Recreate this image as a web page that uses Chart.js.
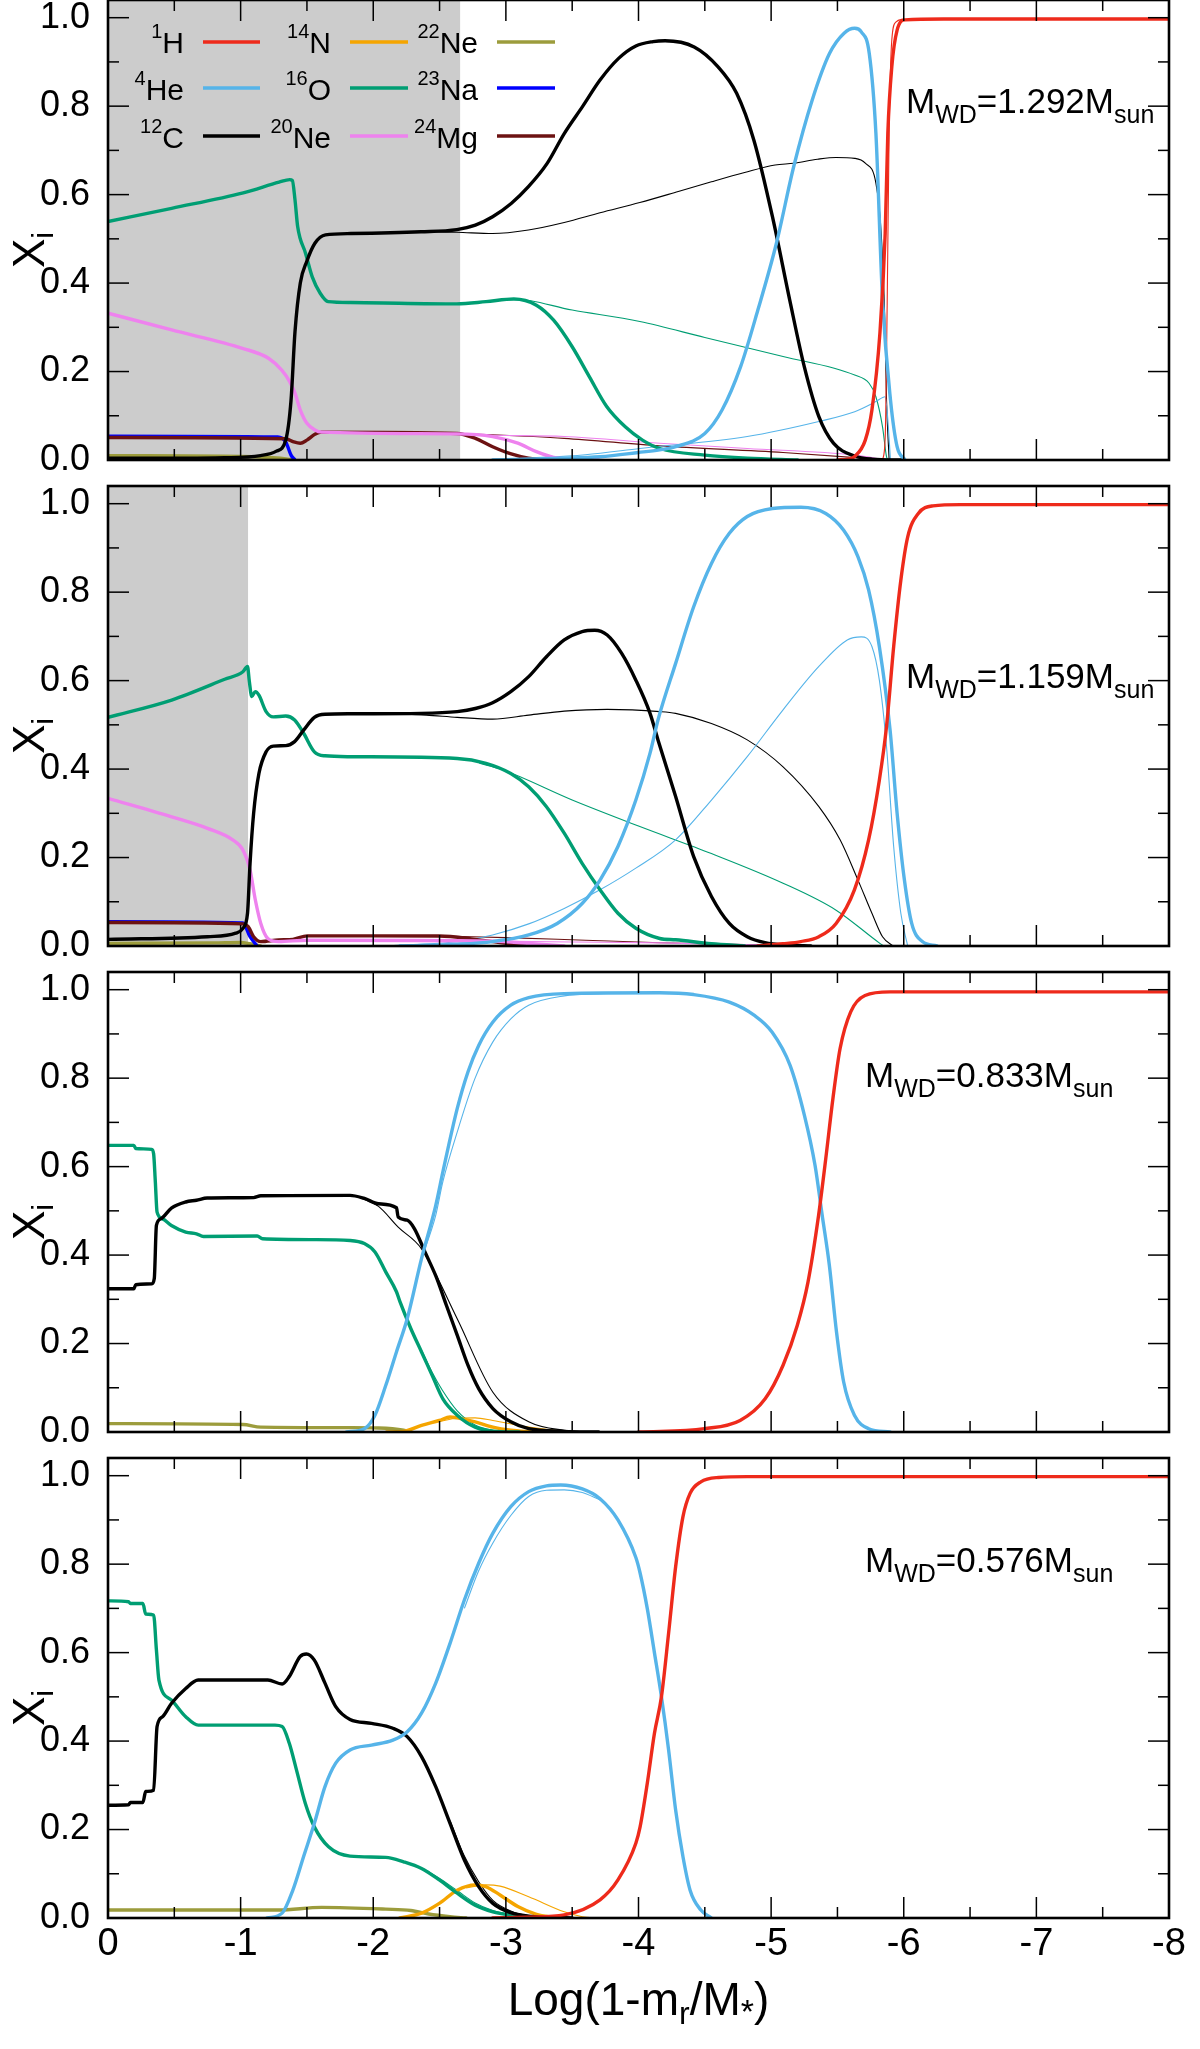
<!DOCTYPE html>
<html><head><meta charset="utf-8">
<script src="https://cdn.jsdelivr.net/npm/chart.js@4.4.1/dist/chart.umd.min.js"></script>
<style>
html,body{margin:0;padding:0;background:#fff;}
#wrap{position:relative;width:1200px;height:2049px;background:#fff;}
canvas{position:absolute;left:0;top:0;}
</style></head><body><div id="wrap">
<canvas id="c0" width="1200" height="2049"></canvas>
<canvas id="c1" width="1200" height="2049"></canvas>
<canvas id="c2" width="1200" height="2049"></canvas>
<canvas id="c3" width="1200" height="2049"></canvas>
</div>
<script>
// ---------------- axis ticks ----------------
const xTicks = [0,-1,-2,-3,-4,-5,-6,-7,-8];
const xTickLabels = ['0','-1','-2','-3','-4','-5','-6','-7','-8'];
const xMinorTicks = [-0.5,-1.5,-2.5,-3.5,-4.5,-5.5,-6.5,-7.5];
const yTicks = [0,0.2,0.4,0.6,0.8,1.0];
const yTickLabels = ['0.0','0.2','0.4','0.6','0.8','1.0'];
const yMinorTicks = [0.1,0.3,0.5,0.7,0.9];
const massLabels = ['1.292','1.159','0.833','0.576'];
const shadeEnds = [-2.655,-1.056,null,null];
const legendSup = ['1','4','12','14','16','20','22','23','24'];
const legendEl  = ['H','He','C','N','O','Ne','Ne','Na','Mg'];
const legendKeys = ['H','He','C','N','O','Ne20','Ne22','Na','Mg'];

// ---------------- panel 1 : M=1.292 ----------------
const p1_H = [[-5.5,0],[-5.574,0.002],[-5.63,0.008],[-5.71,0.045],[-5.76,0.113],[-5.82,0.286],[-5.86,0.512],[-5.88,0.739],[-5.91,0.889],[-5.95,0.972],[-6.01,0.995],[-6.3,0.997],[-8,0.997]];
const p1_H_thin = [[-5.84,0],[-5.86,0.05],[-5.875,0.35],[-5.89,0.75],[-5.91,0.95],[-5.94,0.99],[-6.0,0.997]];
const p1_He = [[-2.9,0],[-3.4,0.004],[-3.71,0.0075],[-4.0,0.017],[-4.16,0.023],[-4.28,0.030],[-4.50,0.06],[-4.63,0.113],[-4.77,0.211],[-4.90,0.339],[-5.04,0.49],[-5.17,0.663],[-5.31,0.814],[-5.44,0.919],[-5.55,0.965],[-5.63,0.976],[-5.68,0.968],[-5.74,0.919],[-5.79,0.739],[-5.84,0.362],[-5.90,0.136],[-5.95,0.030],[-6.01,0]];
const p1_He_thin = [[-2.8,0],[-3.2,0.005],[-3.6,0.012],[-4.01,0.026],[-4.82,0.053],[-5.36,0.087],[-5.63,0.109],[-5.79,0.132],[-5.86,0.143],[-5.875,0.11],[-5.90,0]];
const p1_C = [[0,0.004],[-0.5,0.004],[-0.88,0.005],[-1.15,0.01],[-1.27,0.02],[-1.34,0.045],[-1.38,0.135],[-1.41,0.29],[-1.45,0.40],[-1.50,0.45],[-1.56,0.49],[-1.64,0.509],[-1.83,0.512],[-2.36,0.516],[-2.63,0.521],[-2.77,0.531],[-2.90,0.55],[-3.04,0.58],[-3.17,0.618],[-3.31,0.67],[-3.44,0.738],[-3.58,0.80],[-3.71,0.859],[-3.85,0.908],[-3.98,0.936],[-4.11,0.946],[-4.20,0.948],[-4.42,0.934],[-4.60,0.889],[-4.74,0.829],[-4.87,0.723],[-5.01,0.55],[-5.14,0.362],[-5.25,0.211],[-5.36,0.098],[-5.47,0.038],[-5.63,0.009],[-5.76,0.002],[-6,0]];
const p1_C_thin = [[-2.4,0.516],[-2.63,0.515],[-2.9,0.512],[-3.17,0.52],[-3.44,0.537],[-3.71,0.559],[-4.01,0.582],[-4.3,0.607],[-4.55,0.629],[-4.8,0.65],[-5.03,0.667],[-5.17,0.671],[-5.35,0.68],[-5.49,0.684],[-5.63,0.682],[-5.71,0.671],[-5.79,0.626],[-5.83,0.512],[-5.86,0.286],[-5.87,0.136],[-5.89,0]];
const p1_O = [[0,0.539],[-0.48,0.569],[-1.02,0.604],[-1.29,0.628],[-1.37,0.634],[-1.39,0.632],[-1.41,0.588],[-1.43,0.528],[-1.49,0.467],[-1.54,0.414],[-1.60,0.377],[-1.66,0.358],[-1.83,0.356],[-2.63,0.353],[-2.85,0.358],[-3.06,0.364],[-3.23,0.350],[-3.36,0.316],[-3.50,0.256],[-3.63,0.188],[-3.76,0.121],[-3.90,0.075],[-4.03,0.045],[-4.16,0.026],[-4.50,0.011],[-4.82,0.004],[-5.2,0]];
const p1_O_thin = [[-2.9,0.360],[-3.06,0.364],[-3.5,0.339],[-4.01,0.313],[-4.5,0.277],[-5.09,0.234],[-5.63,0.192],[-5.74,0.173],[-5.79,0.143],[-5.84,0.075],[-5.87,0.0075],[-5.88,0]];
const p1_Ne = [[0,0.332],[-0.48,0.294],[-1.02,0.252],[-1.21,0.230],[-1.31,0.203],[-1.37,0.177],[-1.41,0.151],[-1.45,0.113],[-1.50,0.083],[-1.56,0.068],[-1.61,0.063],[-2.63,0.059],[-2.90,0.053],[-3.09,0.038],[-3.23,0.019],[-3.36,0.006],[-3.50,0.0015],[-3.7,0]];
const p1_Ne_thin = [[-2.5,0.06],[-2.9,0.056],[-3.44,0.053],[-4.16,0.038],[-4.82,0.026],[-5.63,0.011],[-5.87,0]];
const p1_Mg = [[0,0.051],[-1.34,0.048],[-1.40,0.041],[-1.45,0.038],[-1.50,0.045],[-1.56,0.058],[-1.61,0.063],[-2.63,0.060],[-2.77,0.049],[-2.90,0.030],[-3.04,0.0136],[-3.17,0.004],[-3.4,0]];
const p1_Mg_thin = [[-2.5,0.061],[-2.9,0.057],[-3.44,0.049],[-4.16,0.032],[-5.09,0.017],[-5.87,0]];
const p1_Na = [[0,0.054],[-1.28,0.052],[-1.34,0.041],[-1.38,0.011],[-1.41,0]];
const p1_Ne22 = [[0,0.01],[-1.0,0.008],[-1.3,0.004],[-1.4,0]];

// ---------------- panel 2 : M=1.159 ----------------
const p2_H = [[-4.9,0],[-5.09,0.005],[-5.224,0.01],[-5.36,0.021],[-5.49,0.051],[-5.628,0.127],[-5.735,0.24],[-5.816,0.375],[-5.87,0.496],[-5.924,0.677],[-5.978,0.827],[-6.03,0.925],[-6.11,0.978],[-6.22,0.995],[-6.43,0.998],[-8,0.998]];
const p2_He = [[-2.2,0],[-2.633,0.004],[-2.9,0.01],[-3.172,0.025],[-3.387,0.051],[-3.575,0.096],[-3.71,0.149],[-3.845,0.225],[-3.98,0.33],[-4.087,0.436],[-4.147,0.511],[-4.28,0.639],[-4.416,0.767],[-4.55,0.865],[-4.685,0.933],[-4.82,0.971],[-5.01,0.989],[-5.224,0.992],[-5.412,0.978],[-5.547,0.940],[-5.655,0.88],[-5.735,0.805],[-5.816,0.677],[-5.897,0.488],[-5.95,0.30],[-6.005,0.149],[-6.06,0.051],[-6.14,0.01],[-6.25,0]];
const p2_He_thin = [[-2.1,0],[-2.633,0.01],[-2.9,0.025],[-3.172,0.05],[-3.44,0.085],[-3.71,0.127],[-3.98,0.176],[-4.28,0.24],[-4.55,0.33],[-4.82,0.428],[-5.09,0.534],[-5.36,0.632],[-5.574,0.692],[-5.68,0.699],[-5.76,0.677],[-5.816,0.601],[-5.87,0.451],[-5.924,0.225],[-5.978,0.074],[-6.03,0]];
const p2_C = [[0,0.015],[-0.75,0.021],[-0.963,0.029],[-1.017,0.04],[-1.052,0.074],[-1.071,0.187],[-1.098,0.30],[-1.138,0.39],[-1.192,0.439],[-1.246,0.452],[-1.34,0.453],[-1.407,0.462],[-1.475,0.488],[-1.556,0.517],[-1.636,0.524],[-1.825,0.525],[-2.36,0.526],[-2.633,0.530],[-2.77,0.537],[-2.90,0.55],[-3.037,0.575],[-3.172,0.609],[-3.306,0.654],[-3.44,0.692],[-3.575,0.711],[-3.67,0.714],[-3.764,0.703],[-3.872,0.662],[-3.98,0.601],[-4.087,0.526],[-4.147,0.466],[-4.28,0.338],[-4.416,0.202],[-4.55,0.112],[-4.685,0.051],[-4.82,0.021],[-4.954,0.0075],[-5.14,0.002],[-5.3,0]];
const p2_C_thin = [[-2.1,0.526],[-2.4,0.522],[-2.633,0.517],[-2.9,0.513],[-3.172,0.522],[-3.44,0.531],[-3.764,0.535],[-4.16,0.530],[-4.28,0.526],[-4.55,0.503],[-4.82,0.466],[-5.09,0.405],[-5.36,0.315],[-5.52,0.24],[-5.655,0.149],[-5.76,0.074],[-5.84,0.021],[-5.92,0]];
const p2_O = [[0,0.517],[-0.48,0.556],[-0.88,0.603],[-1.017,0.620],[-1.052,0.632],[-1.065,0.600],[-1.084,0.564],[-1.111,0.575],[-1.138,0.567],[-1.192,0.530],[-1.246,0.518],[-1.34,0.520],[-1.407,0.511],[-1.475,0.481],[-1.556,0.439],[-1.636,0.430],[-1.825,0.428],[-2.633,0.424],[-2.85,0.413],[-3.037,0.39],[-3.172,0.360],[-3.306,0.315],[-3.44,0.255],[-3.575,0.187],[-3.71,0.127],[-3.845,0.074],[-3.98,0.040],[-4.16,0.017],[-4.28,0.014],[-4.55,0.005],[-4.8,0]];
const p2_O_thin = [[-2.8,0.413],[-2.96,0.40],[-3.5,0.33],[-4.01,0.27],[-4.55,0.209],[-5.09,0.142],[-5.49,0.081],[-5.82,0.006],[-5.85,0]];
const p2_Ne = [[0,0.334],[-0.48,0.292],[-0.75,0.266],[-0.94,0.24],[-1.017,0.217],[-1.071,0.172],[-1.111,0.104],[-1.152,0.051],[-1.205,0.017],[-1.286,0.01],[-1.5,0.013],[-2.9,0.011],[-3.2,0.005],[-3.44,0]];
const p2_Ne_thin = [[-2.9,0.011],[-3.5,0.009],[-4.16,0.007],[-4.8,0.003],[-5.5,0]];
const p2_Mg = [[0,0.053],[-1.017,0.05],[-1.057,0.044],[-1.098,0.021],[-1.152,0.01],[-1.286,0.0136],[-1.394,0.015],[-1.502,0.023],[-1.825,0.023],[-2.498,0.0226],[-2.768,0.015],[-3.037,0.0045],[-3.172,0]];
const p2_Mg_thin = [[-2.5,0.0226],[-3.0,0.019],[-3.6,0.013],[-4.16,0.0075],[-4.8,0.003],[-5.5,0]];
const p2_Na = [[0,0.055],[-1.017,0.052],[-1.071,0.021],[-1.125,0]];
const p2_Ne22 = [[0,0.006],[-0.8,0.007],[-1.0,0.008],[-1.07,0.005],[-1.15,0]];

// ---------------- panel 3 : M=0.833 ----------------
const p3_H = [[-4.0,0],[-4.497,0.0075],[-4.766,0.026],[-4.955,0.075],[-5.09,0.151],[-5.197,0.241],[-5.278,0.339],[-5.358,0.49],[-5.412,0.618],[-5.466,0.754],[-5.52,0.867],[-5.6,0.95],[-5.708,0.987],[-5.897,0.995],[-8,0.995]];
const p3_He = [[-1.798,0],[-1.933,0.0075],[-2.013,0.038],[-2.094,0.105],[-2.175,0.181],[-2.256,0.256],[-2.364,0.392],[-2.471,0.512],[-2.525,0.588],[-2.633,0.731],[-2.714,0.814],[-2.795,0.874],[-2.902,0.927],[-3.037,0.965],[-3.172,0.982],[-3.44,0.991],[-4.16,0.993],[-4.416,0.989],[-4.685,0.972],[-4.874,0.942],[-5.008,0.904],[-5.143,0.829],[-5.251,0.716],[-5.331,0.603],[-5.385,0.49],[-5.439,0.377],[-5.493,0.226],[-5.547,0.113],[-5.628,0.038],[-5.736,0.0075],[-5.897,0]];
const p3_He_thin = [[-2.364,0.392],[-2.471,0.49],[-2.525,0.566],[-2.633,0.678],[-2.768,0.80],[-2.902,0.882],[-3.037,0.934],[-3.172,0.965],[-3.44,0.986],[-3.71,0.991],[-4.2,0.993]];
const p3_C = [[0,0.324],[-0.195,0.324],[-0.209,0.333],[-0.33,0.335],[-0.349,0.347],[-0.365,0.467],[-0.398,0.482],[-0.478,0.506],[-0.586,0.52],[-0.667,0.524],[-0.748,0.529],[-1.098,0.53],[-1.152,0.534],[-1.825,0.535],[-1.933,0.528],[-2.04,0.516],[-2.175,0.507],[-2.188,0.486],[-2.256,0.479],[-2.31,0.46],[-2.39,0.407],[-2.47,0.354],[-2.498,0.332],[-2.552,0.286],[-2.633,0.219],[-2.714,0.151],[-2.795,0.098],[-2.902,0.053],[-3.037,0.023],[-3.172,0.0075],[-3.44,0.0015],[-3.7,0]];
const p3_C_thin = [[-1.9,0.53],[-2.04,0.51],[-2.188,0.463],[-2.364,0.414],[-2.633,0.256],[-2.902,0.09],[-3.172,0.023],[-3.44,0.004],[-3.7,0]];
const p3_O = [[0,0.648],[-0.195,0.648],[-0.209,0.641],[-0.33,0.639],[-0.344,0.629],[-0.357,0.565],[-0.37,0.497],[-0.411,0.482],[-0.478,0.467],[-0.586,0.452],[-0.667,0.448],[-0.72,0.442],[-1.125,0.443],[-1.165,0.437],[-1.556,0.435],[-1.825,0.433],[-1.933,0.426],[-2.013,0.407],[-2.094,0.362],[-2.175,0.317],[-2.202,0.294],[-2.283,0.234],[-2.364,0.181],[-2.444,0.128],[-2.525,0.075],[-2.633,0.038],[-2.768,0.011],[-2.902,0.002],[-3.1,0]];
const p3_O_thin = [[-2.364,0.185],[-2.444,0.135],[-2.52,0.095],[-2.633,0.048],[-2.768,0.016],[-2.902,0.004],[-3.1,0]];
const p3_N = [[-2.1,0],[-2.229,0.0015],[-2.364,0.015],[-2.498,0.026],[-2.579,0.034],[-2.633,0.032],[-2.768,0.023],[-2.902,0.011],[-3.037,0.004],[-3.2,0]];
const p3_N_thin = [[-2.5,0.024],[-2.633,0.031],[-2.768,0.032],[-2.902,0.026],[-3.172,0.011],[-3.44,0.002],[-3.6,0]];
const p3_Ne22 = [[0,0.019],[-1.017,0.017],[-1.152,0.011],[-1.825,0.0098],[-2.04,0.009],[-2.229,0.004],[-2.283,0]];

// ---------------- panel 4 : M=0.576 ----------------
const p4_H = [[-2.9,0],[-3.172,0.002],[-3.44,0.007],[-3.71,0.041],[-3.845,0.086],[-3.98,0.169],[-4.012,0.206],[-4.066,0.304],[-4.12,0.417],[-4.173,0.50],[-4.227,0.644],[-4.28,0.794],[-4.335,0.907],[-4.389,0.96],[-4.47,0.986],[-4.604,0.996],[-4.82,0.998],[-8,0.998]];
const p4_He = [[-1.2,0],[-1.313,0.011],[-1.394,0.063],[-1.475,0.139],[-1.556,0.214],[-1.636,0.297],[-1.717,0.35],[-1.825,0.38],[-1.987,0.391],[-2.148,0.402],[-2.256,0.421],[-2.364,0.463],[-2.471,0.531],[-2.579,0.621],[-2.687,0.719],[-2.795,0.802],[-2.902,0.87],[-3.037,0.93],[-3.172,0.964],[-3.306,0.977],[-3.414,0.979],[-3.576,0.970],[-3.71,0.948],[-3.845,0.90],[-3.98,0.815],[-4.012,0.78],[-4.066,0.70],[-4.12,0.60],[-4.173,0.50],[-4.227,0.38],[-4.28,0.244],[-4.335,0.139],[-4.389,0.063],[-4.47,0.018],[-4.55,0]];
const p4_He_thin = [[-2.687,0.70],[-2.795,0.785],[-2.902,0.848],[-3.037,0.91],[-3.172,0.953],[-3.306,0.967],[-3.44,0.968],[-3.576,0.962],[-3.71,0.945]];
const p4_C = [[0,0.255],[-0.155,0.256],[-0.169,0.261],[-0.263,0.261],[-0.284,0.286],[-0.344,0.289],[-0.37,0.433],[-0.411,0.455],[-0.478,0.485],[-0.586,0.519],[-0.68,0.538],[-1.205,0.538],[-1.313,0.529],[-1.367,0.546],[-1.448,0.591],[-1.496,0.597],[-1.556,0.583],[-1.636,0.531],[-1.717,0.478],[-1.825,0.449],[-1.987,0.44],[-2.148,0.429],[-2.256,0.41],[-2.364,0.365],[-2.471,0.297],[-2.579,0.214],[-2.687,0.131],[-2.795,0.071],[-2.902,0.033],[-3.037,0.012],[-3.172,0.004],[-3.306,0.0015],[-3.5,0]];
const p4_C_thin = [[-2.579,0.22],[-2.687,0.14],[-2.795,0.082],[-2.902,0.04],[-3.037,0.016],[-3.172,0.005],[-3.4,0]];
const p4_O = [[0,0.717],[-0.155,0.715],[-0.169,0.711],[-0.263,0.711],[-0.284,0.687],[-0.344,0.685],[-0.365,0.606],[-0.384,0.538],[-0.478,0.493],[-0.586,0.455],[-0.68,0.436],[-1.259,0.436],[-1.313,0.433],[-1.367,0.395],[-1.421,0.335],[-1.488,0.259],[-1.556,0.206],[-1.663,0.161],[-1.825,0.14],[-2.094,0.137],[-2.229,0.127],[-2.364,0.112],[-2.498,0.086],[-2.633,0.056],[-2.768,0.029],[-2.902,0.014],[-3.037,0.007],[-3.306,0]];
const p4_O_thin = [[-2.4,0.108],[-2.498,0.09],[-2.633,0.062],[-2.768,0.034],[-2.902,0.017],[-3.037,0.008],[-3.3,0]];
const p4_N = [[-2.2,0],[-2.364,0.011],[-2.498,0.033],[-2.633,0.063],[-2.768,0.075],[-2.848,0.071],[-2.956,0.052],[-3.09,0.026],[-3.225,0.009],[-3.387,0]];
const p4_N_thin = [[-2.7,0.068],[-2.85,0.075],[-2.956,0.072],[-3.172,0.048],[-3.44,0.014],[-3.576,0.003],[-3.7,0]];
const p4_Ne22 = [[0,0.018],[-1.286,0.018],[-1.61,0.024],[-2.094,0.020],[-2.283,0.017],[-2.418,0.009],[-2.579,0.003],[-2.7,0]];

// ---------------- styles / layout ----------------
const FONT = '"Liberation Sans", Arial, Helvetica, sans-serif';
const colors = {H:'#ee2a1b', He:'#56b4e9', C:'#000000', N:'#f5a500', O:'#009e73', Ne20:'#ee82ee', Ne22:'#9c9c3c', Na:'#0000ff', Mg:'#6c1212'};
const PANEL_TOP = [0,486,972,1458];
const PANEL_H = 460;
const CANVAS_H = 2049;
const PLOT_RIGHT = 1169;

const panelSeries = [
  [['H',p1_H,p1_H_thin],['He',p1_He,p1_He_thin],['C',p1_C,p1_C_thin],['O',p1_O,p1_O_thin],['Ne20',p1_Ne,p1_Ne_thin],['Mg',p1_Mg,p1_Mg_thin],['Na',p1_Na,null],['Ne22',p1_Ne22,null]],
  [['H',p2_H,null],['He',p2_He,p2_He_thin],['C',p2_C,p2_C_thin],['O',p2_O,p2_O_thin],['Ne20',p2_Ne,p2_Ne_thin],['Mg',p2_Mg,p2_Mg_thin],['Na',p2_Na,null],['Ne22',p2_Ne22,null]],
  [['H',p3_H,null],['He',p3_He,p3_He_thin],['C',p3_C,p3_C_thin],['O',p3_O,p3_O_thin],['N',p3_N,p3_N_thin],['Ne22',p3_Ne22,null]],
  [['H',p4_H,null],['He',p4_He,p4_He_thin],['C',p4_C,p4_C_thin],['O',p4_O,p4_O_thin],['N',p4_N,p4_N_thin],['Ne22',p4_Ne22,null]]
];
const annoX = [906,906,865,865];
const annoBase = [113,202,115,114];

function toXY(arr){ return arr.map(p => ({x:p[0], y:p[1]})); }

function buildDatasets(pi){
  const thick = [], thin = [];
  for (const [key, d, dt] of panelSeries[pi]) {
    thick.push({label:key, data:toXY(d), borderColor:colors[key], borderWidth:3.4, pointRadius:0,
      fill:false, cubicInterpolationMode:'monotone', borderJoinStyle:'round', borderCapStyle:'round', order:1});
    if (dt) thin.push({label:key+'_thin', data:toXY(dt), borderColor:colors[key], borderWidth:1.1, pointRadius:0,
      fill:false, cubicInterpolationMode:'monotone', order:2});
  }
  return thick.concat(thin);
}

function drawParts(ctx, parts, x, y){
  for (const [t, size, dy] of parts){
    ctx.font = size + 'px ' + FONT;
    ctx.fillText(t, x, y + dy);
    x += ctx.measureText(t).width;
  }
  return x;
}
function partsWidth(ctx, parts){
  let w = 0;
  for (const [t, size] of parts){ ctx.font = size + 'px ' + FONT; w += ctx.measureText(t).width; }
  return w;
}
function seg(ctx,x1,y1,x2,y2){ ctx.beginPath(); ctx.moveTo(x1,y1); ctx.lineTo(x2,y2); ctx.stroke(); }

function makePlugin(pi){
  return {
    id:'decor'+pi,
    beforeDatasetsDraw(chart){
      const {ctx, chartArea:a, scales:{x}} = chart;
      if (shadeEnds[pi] !== null){
        const x0 = x.getPixelForValue(0), x1 = x.getPixelForValue(shadeEnds[pi]);
        ctx.save(); ctx.fillStyle = '#cccccc';
        ctx.fillRect(x0, a.top, x1 - x0, a.bottom - a.top);
        ctx.restore();
      }
    },
    afterDatasetsDraw(chart){
      const {ctx, chartArea:a, scales:{x, y}} = chart;
      ctx.save();
      ctx.strokeStyle = '#000'; ctx.lineWidth = 1.5;
      for (const v of xTicks){ const px = x.getPixelForValue(v); seg(ctx,px,a.bottom,px,a.bottom-21); seg(ctx,px,a.top,px,a.top+21); }
      for (const v of xMinorTicks){ const px = x.getPixelForValue(v); seg(ctx,px,a.bottom,px,a.bottom-11); seg(ctx,px,a.top,px,a.top+11); }
      for (const v of yTicks){ const py = y.getPixelForValue(v); seg(ctx,a.left,py,a.left+21,py); seg(ctx,a.right,py,a.right-21,py); }
      for (const v of yMinorTicks){ const py = y.getPixelForValue(v); seg(ctx,a.left,py,a.left+11,py); seg(ctx,a.right,py,a.right-11,py); }
      ctx.lineWidth = 2.6;
      ctx.strokeRect(a.left, a.top, a.right - a.left, a.bottom - a.top);

      ctx.fillStyle = '#000'; ctx.textBaseline = 'alphabetic'; ctx.textAlign = 'left';
      drawParts(ctx, [['M',35,0],['WD',25,10],['='+massLabels[pi]+'M',35,0],['sun',25,10]], annoX[pi], a.top + annoBase[pi]);

      ctx.save();
      ctx.translate(44, a.top + 250);
      ctx.rotate(-Math.PI/2);
      const yt = [['X',44,0],['i',30,9]];
      drawParts(ctx, yt, -partsWidth(ctx, yt)/2, 0);
      ctx.restore();

      if (pi === 0){
        const colRight = [184,331,478], lineX = [[203,260],[350,408],[497,555]];
        const rowLine = [42,88,136], rowBase = [53,100,148];
        for (let k = 0; k < legendKeys.length; k++){
          const c = Math.floor(k/3), r = k % 3;
          const parts = [[legendSup[k],20,-15],[legendEl[k],30,0]];
          ctx.fillStyle = '#000';
          drawParts(ctx, parts, colRight[c] - partsWidth(ctx, parts), rowBase[r]);
          ctx.strokeStyle = colors[legendKeys[k]]; ctx.lineWidth = 3.4;
          seg(ctx, lineX[c][0], rowLine[r], lineX[c][1], rowLine[r]);
        }
      }
      if (pi === 3){
        const xt = [['Log(1-m',46,0],['r',32,9],['/M',46,0],['*',34,8],[')',46,0]];
        ctx.fillStyle = '#000';
        drawParts(ctx, xt, (a.left + a.right)/2 - partsWidth(ctx, xt)/2, 2015);
      }
      ctx.restore();
    }
  };
}

for (let pi = 0; pi < 4; pi++){
  const last = pi === 3;
  const top = PANEL_TOP[pi];
  const xH = last ? 131 : 0;
  const bottomPad = CANVAS_H - (top + PANEL_H) - xH;
  new Chart(document.getElementById('c'+pi), {
    type:'line',
    data:{datasets: buildDatasets(pi)},
    options:{
      responsive:false, animation:false, devicePixelRatio:1,
      layout:{padding:{left:0, right:1200-PLOT_RIGHT, top:top, bottom:bottomPad}},
      plugins:{legend:{display:false}, tooltip:{enabled:false}},
      events:[],
      scales:{
        x:{type:'linear', min:-8, max:0, reverse:true,
          grid:{display:false, drawTicks:false}, border:{display:false},
          afterBuildTicks: s => { s.ticks = xTicks.map(v => ({value:v})); },
          afterFit: s => { s.height = xH; s.paddingLeft = 0; s.paddingRight = 0; },
          ticks:{display:last, color:'#000', padding:4, maxRotation:0, autoSkip:false,
            font:{family:FONT, size:38},
            callback: v => xTickLabels[xTicks.indexOf(v)]}
        },
        y:{type:'linear', min:0, max:1.04,
          grid:{display:false, drawTicks:false}, border:{display:false},
          afterBuildTicks: s => { s.ticks = yTicks.map(v => ({value:v})); },
          afterFit: s => { s.width = 108; s.paddingTop = 0; s.paddingBottom = 0; },
          ticks:{color:'#000', padding:18, autoSkip:false, font:{family:FONT, size:36},
            callback: v => yTickLabels[yTicks.indexOf(v)]}
        }
      }
    },
    plugins:[makePlugin(pi)]
  });
}
</script></body></html>
